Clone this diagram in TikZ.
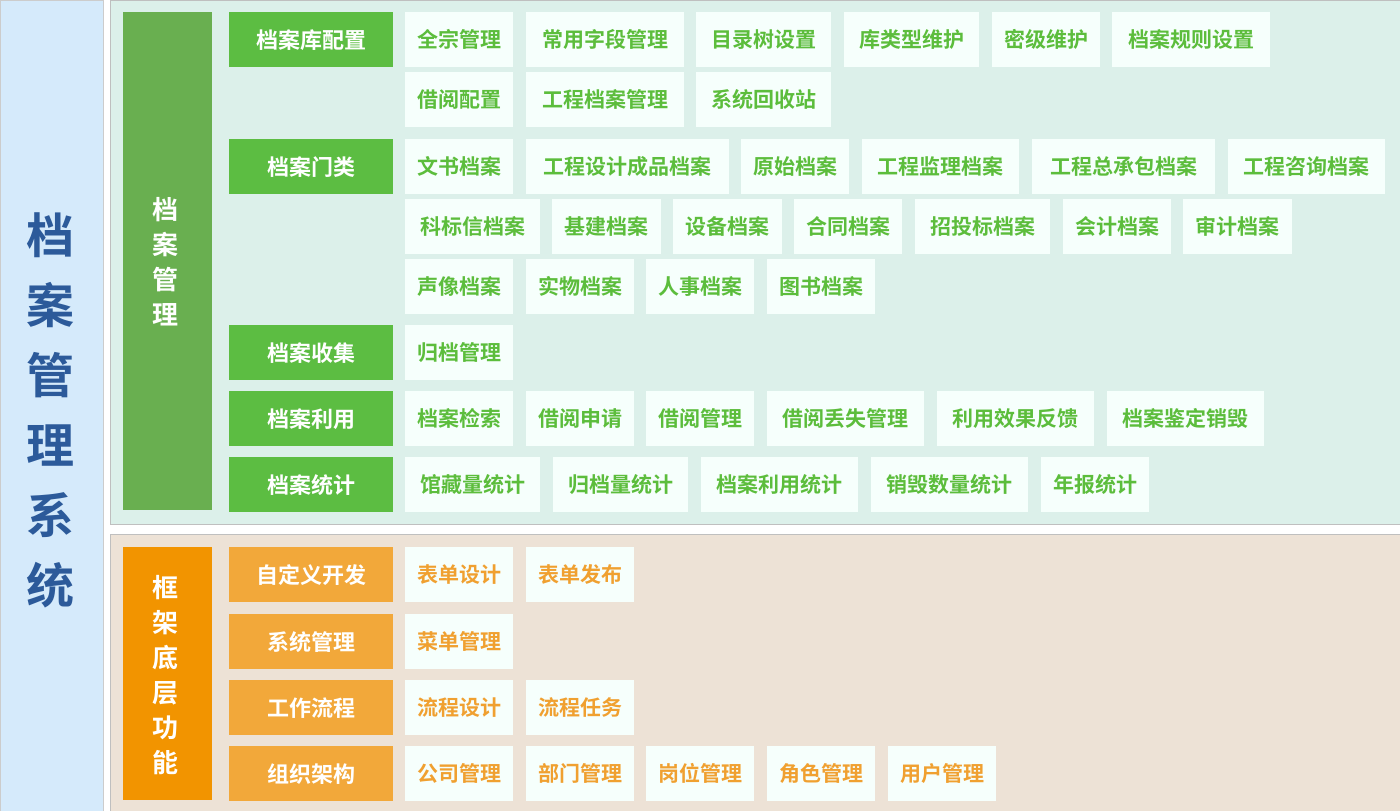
\documentclass[tikz,border=0pt]{standalone}
\usepackage{fontspec}
\setmainfont{Noto Sans CJK SC Bold}
\usepackage{tikz}
\definecolor{bandblue}{HTML}{D5EAFB}
\definecolor{titleblue}{HTML}{2C5A9A}
\definecolor{mint}{HTML}{DCF0EA}
\definecolor{beige}{HTML}{EDE2D6}
\definecolor{bargreen}{HTML}{69AF50}
\definecolor{catgreen}{HTML}{5CBD42}
\definecolor{txtgreen}{HTML}{5CBD3C}
\definecolor{barorange}{HTML}{F29400}
\definecolor{catorange}{HTML}{F2A83A}
\definecolor{txtorange}{HTML}{F0A030}
\definecolor{itemfill}{HTML}{F6FFFC}
\begin{document}
\begin{tikzpicture}[x=1pt, y=-1pt]
    \tikzstyle{cat} = [rectangle, anchor=north west, minimum width=164pt, minimum height=55pt, inner sep=0pt, text=white, font=\fontsize{22}{22}\selectfont]
    \tikzstyle{item} = [rectangle, anchor=north west, minimum height=55pt, inner sep=0pt, fill=itemfill, font=\fontsize{21}{21}\selectfont]
    \tikzstyle{vbar} = [rectangle, anchor=north west, minimum width=89pt, inner sep=0pt, text=white, align=center, font=\fontsize{24}{35}\selectfont]
    \useasboundingbox (0,0) rectangle (1400,811);

    % panels
    \node[draw=gray!40, fill=bandblue, anchor=north west, minimum width=103pt, minimum height=811pt, inner sep=0pt] (band) at (0,0) {};
    \node[text=titleblue, align=center, font=\fontsize{48}{70}\selectfont] (title) at (51,410) {档\\案\\管\\理\\系\\统};
    \node[draw=gray!50, fill=mint, anchor=north west, minimum width=1292pt, minimum height=524pt, inner sep=0pt] (top) at (110,0) {};
    \node[draw=gray!50, fill=beige, anchor=north west, minimum width=1290pt, minimum height=278pt, inner sep=0pt] (bottom) at (110,534) {};

    \node[vbar, fill=bargreen, minimum height=498pt] (archbar) at (123,12) {};
    \node[text=white, align=center, font=\fontsize{26}{35}\selectfont] (archtxt) at (165,262) {档\\案\\管\\理};
    \node[vbar, fill=barorange, minimum height=253pt] (basebar) at (123,547) {};
    \node[text=white, align=center, font=\fontsize{26}{35}\selectfont] (basetxt) at (165,675) {框\\架\\底\\层\\功\\能};

    % categories
    \foreach \y/\t [count=\i] in {12/档案库配置, 139/档案门类, 325/档案收集, 391/档案利用, 457/档案统计}
        \node[cat, fill=catgreen] (g\i) at (229,\y) {\t};
    \foreach \y/\t [count=\i] in {547/自定义开发, 614/系统管理, 680/工作流程, 746/组织架构}
        \node[cat, fill=catorange] (o\i) at (229,\y) {\t};

    % green items
    \foreach \y/\row in {
        12/{405/108/全宗管理, 526/158/常用字段管理, 696/135/目录树设置, 844/135/库类型维护, 992/108/密级维护, 1112/158/档案规则设置},
        72/{405/108/借阅配置, 526/158/工程档案管理, 696/135/系统回收站},
        139/{405/108/文书档案, 526/203/工程设计成品档案, 741/108/原始档案, 862/157/工程监理档案, 1032/183/工程总承包档案, 1228/157/工程咨询档案},
        199/{405/135/科标信档案, 552/109/基建档案, 673/109/设备档案, 794/108/合同档案, 915/135/招投标档案, 1063/108/会计档案, 1183/109/审计档案},
        259/{405/108/声像档案, 526/108/实物档案, 646/108/人事档案, 767/108/图书档案},
        325/{405/108/归档管理},
        391/{405/108/档案检索, 526/108/借阅申请, 646/108/借阅管理, 767/157/借阅丢失管理, 937/157/利用效果反馈, 1107/157/档案鉴定销毁},
        457/{405/135/馆藏量统计, 553/135/归档量统计, 701/157/档案利用统计, 871/157/销毁数量统计, 1041/108/年报统计}}
        \foreach \x/\w/\t in \row
            \node[item, text=txtgreen, minimum width=\w pt] at (\x,\y) {\t};

    % orange items
    \foreach \y/\row in {
        547/{405/108/表单设计, 526/108/表单发布},
        614/{405/108/菜单管理},
        680/{405/108/流程设计, 526/108/流程任务},
        746/{405/108/公司管理, 526/108/部门管理, 646/108/岗位管理, 767/108/角色管理, 888/108/用户管理}}
        \foreach \x/\w/\t in \row
            \node[item, text=txtorange, minimum width=\w pt] at (\x,\y) {\t};
\end{tikzpicture}
\end{document}
